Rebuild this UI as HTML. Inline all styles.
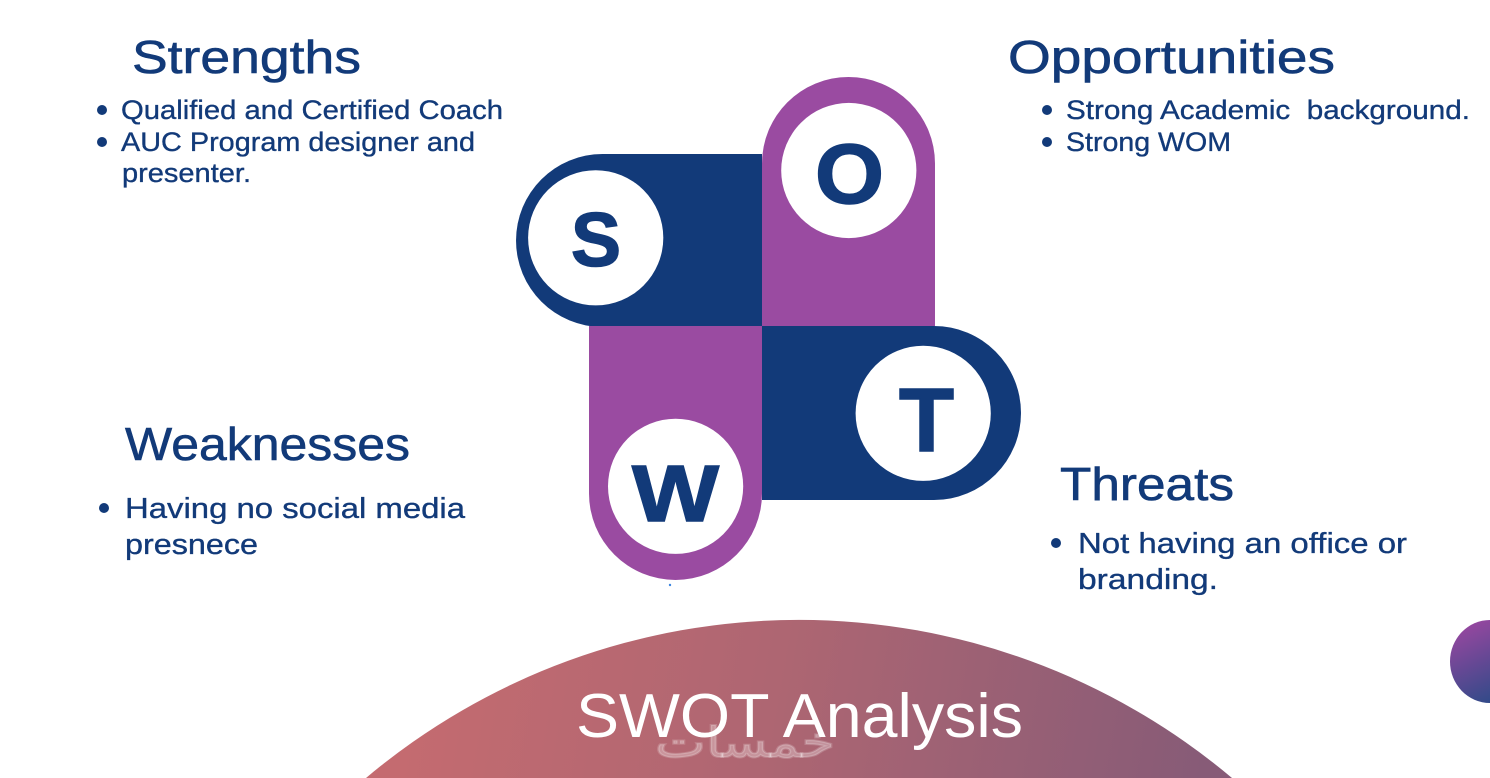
<!DOCTYPE html>
<html><head><meta charset="utf-8"><style>
html,body{margin:0;padding:0;background:#fff;width:1490px;height:778px;overflow:hidden}
svg{display:block}
.h{font-family:"Liberation Sans",sans-serif;font-size:46px;fill:#123a79;stroke:#123a79;stroke-width:.6}
.t{font-family:"Liberation Sans",sans-serif;font-size:27px;fill:#123a79;stroke:#123a79;stroke-width:.35}
.b{font-size:29px}
.l{font-family:"Liberation Sans",sans-serif;font-weight:700;fill:#123a79;stroke:#123a79;stroke-width:1.500}
</style></head><body>
<svg width="1490" height="778" viewBox="0 0 1490 778" xmlns="http://www.w3.org/2000/svg">
<defs>
<linearGradient id="a" gradientUnits="userSpaceOnUse" x1="420" y1="640" x2="1200" y2="778"><stop offset="0" stop-color="#c46b70"/><stop offset=".45" stop-color="#ae6672"/><stop offset="1" stop-color="#875b77"/></linearGradient>
<linearGradient id="b" gradientUnits="userSpaceOnUse" x1="1455" y1="630" x2="1490" y2="705"><stop offset="0" stop-color="#95479f"/><stop offset="1" stop-color="#2f4a88"/></linearGradient>
</defs>
<path d="M366 778A672 672 0 0 1 1232 778Z" fill="url(#a)"/>
<path d="M1490 620A40 41.500 0 0 0 1490 703Z" fill="url(#b)"/>
<path d="M762 154H602.500A86.500 86.500 0 0 0 602.500 327H762Z" fill="#123a79"/>
<path d="M762 326V163.500A86.500 86.500 0 0 1 935 163.500V326Z" fill="#9a4ba1"/>
<path d="M762 326V500H934A87 87 0 0 0 934 326Z" fill="#123a79"/>
<path d="M589 326V493.500A86.500 86.500 0 0 0 762 493.500V326Z" fill="#9a4ba1"/>
<circle cx="595.700" cy="237.800" r="67.600" fill="#fff"/>
<circle cx="848.800" cy="170.500" r="67.600" fill="#fff"/>
<circle cx="923.200" cy="413.300" r="67.600" fill="#fff"/>
<circle cx="675.600" cy="486.300" r="67.600" fill="#fff"/>
<circle cx="670" cy="585" r="1.200" fill="#3d86e0"/>
<text class="l" x="571" y="266" font-size="76" textLength="50" lengthAdjust="spacingAndGlyphs">S</text>
<text class="l" x="815" y="203" font-size="84" textLength="69" lengthAdjust="spacingAndGlyphs">O</text>
<text class="l" x="899" y="451" font-size="90" textLength="55" lengthAdjust="spacingAndGlyphs">T</text>
<text class="l" x="632" y="521" font-size="80" textLength="87" lengthAdjust="spacingAndGlyphs">W</text>
<text class="h" x="132" y="73" textLength="229" lengthAdjust="spacingAndGlyphs">Strengths</text>
<text class="h" x="1008" y="73" textLength="327" lengthAdjust="spacingAndGlyphs">Opportunities</text>
<text class="h" x="125" y="460" textLength="285" lengthAdjust="spacingAndGlyphs">Weaknesses</text>
<text class="h" x="1060" y="500" textLength="174" lengthAdjust="spacingAndGlyphs">Threats</text>
<g fill="#123a79"><circle cx="102" cy="110" r="5"/><circle cx="102" cy="142" r="5"/><circle cx="1047" cy="110" r="5"/><circle cx="1047" cy="142" r="5"/><circle cx="104" cy="508" r="5"/><circle cx="1056" cy="543" r="5"/></g>
<text class="t" x="121" y="119" textLength="382" lengthAdjust="spacingAndGlyphs">Qualified and Certified Coach</text>
<text class="t" x="121" y="151" textLength="354" lengthAdjust="spacingAndGlyphs">AUC Program designer and</text>
<text class="t" x="122" y="182" textLength="129" lengthAdjust="spacingAndGlyphs">presenter.</text>
<text class="t" x="1066" y="119" textLength="404" lengthAdjust="spacingAndGlyphs" xml:space="preserve">Strong Academic  background.</text>
<text class="t" x="1066" y="151" textLength="165" lengthAdjust="spacingAndGlyphs">Strong WOM</text>
<text class="t b" x="125" y="518" textLength="340" lengthAdjust="spacingAndGlyphs">Having no social media</text>
<text class="t b" x="125" y="554" textLength="133" lengthAdjust="spacingAndGlyphs">presnece</text>
<text class="t b" x="1078" y="553" textLength="329" lengthAdjust="spacingAndGlyphs">Not having an office or</text>
<text class="t b" x="1078" y="589" textLength="140" lengthAdjust="spacingAndGlyphs">branding.</text>
<text x="655" y="757" direction="rtl" text-anchor="end" font-family="'DejaVu Sans',sans-serif" font-size="42" fill="#fff" fill-opacity=".3" stroke="#fff" stroke-opacity=".18" stroke-width="2" textLength="180" lengthAdjust="spacingAndGlyphs">خمسات</text>
<text x="576" y="737" font-family="'Liberation Sans',sans-serif" font-size="62" fill="#fff" textLength="447" lengthAdjust="spacingAndGlyphs">SWOT Analysis</text>
</svg>
</body></html>
